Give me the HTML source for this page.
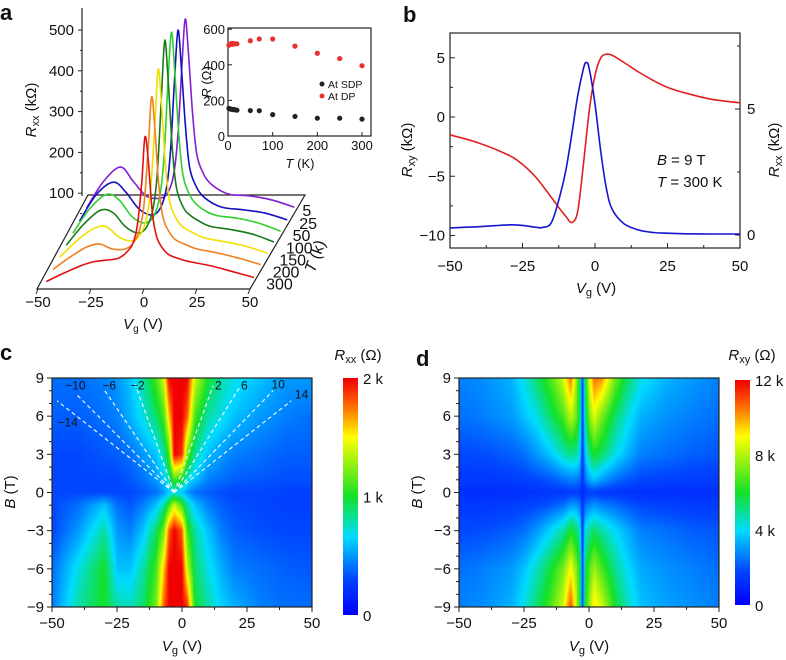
<!DOCTYPE html>
<html><head><meta charset="utf-8"><style>
html,body{margin:0;padding:0;background:#fff;}
#wrap{position:relative;width:786px;height:660px;overflow:hidden;font-family:"Liberation Sans",sans-serif;}
canvas{position:absolute;}
svg{position:absolute;left:0;top:0;}
text{font-family:"Liberation Sans",sans-serif;fill:#111;}
</style></head><body>
<div id="wrap">
<canvas id="hc" width="260" height="229" style="left:52px;top:378px"></canvas>
<canvas id="hd" width="260" height="229" style="left:459px;top:378px"></canvas>
<canvas id="cbc" width="15" height="237" style="left:343px;top:378px"></canvas>
<canvas id="cbd" width="15" height="225" style="left:735px;top:380px"></canvas>
<svg id="s" width="786" height="660" font-size="14"></svg>
</div>
<script>
// ---------- Panel a data ----------
const aVg=[-48,-40,-32,-26,-20,-14,-10,-7,-5,-3,-1.5,0,2,4,7,10,15,20,30,40,50];
const aTemps=["300","200","150","100","50","25","5"];
const aColors=["#e01010","#f08020","#f0e000","#1a7a1a","#30d030","#1010c0","#8020d0"];
const a300=[0,20,38,48,52,57,72,95,140,240,352,300,170,110,80,65,55,48,38,24,10];
const a200=[0,30,55,62,50,50,65,100,160,300,421,350,200,125,90,72,60,50,40,27,12];
const a150=[0,40,70,75,50,40,55,95,170,330,459,380,220,135,95,75,60,48,38,27,10];
const a100=[0,50,85,80,45,30,45,90,180,370,500,410,240,140,95,75,58,46,38,27,8];
const a50=[0,60,95,80,40,25,40,90,185,380,490,400,240,140,95,72,53,43,36,24,5];
const a25=[0,65,95,70,30,15,30,80,175,360,466,380,230,130,85,62,43,33,27,19,3];
const a5=[0,65,100,65,30,24,35,80,175,350,461,380,230,130,85,62,43,33,29,19,2];
const aDepth=[0.08,0.21,0.34,0.47,0.60,0.73,0.87];
const aYTicks=[100,200,300,400,500];
// inset
const insT=[2,5,8,10,12,15,20,50,70,100,150,200,250,300];
const insDP=[510,515,520,515,520,518,518,535,545,545,505,465,435,395];
const insSDP=[155,152,150,150,148,148,145,143,142,120,110,100,100,95];
// ---------- Panel b data ----------
const bVgXY=[-50,-40,-30,-25,-20,-15,-12,-10,-8,-6,-4,-2,0,2,4,6,10,15,20,25,30,40,50];
const bRxy=[-1.5,-2.2,-3.2,-4,-5.2,-6.8,-7.8,-8.4,-8.9,-8,-4,0.5,3.5,5,5.3,5.2,4.6,3.8,3.1,2.5,2.1,1.5,1.2];
const bVgXX=[-50,-40,-30,-25,-20,-18,-15,-12,-10,-8,-6,-4,-3,-2,0,2,4,6,10,15,20,25,30,40,50];
const bRxx=[0.28,0.33,0.4,0.38,0.3,0.3,0.5,1.6,2.6,4,5.5,6.6,6.85,6.6,5.2,3.3,1.8,1,0.45,0.2,0.1,0.07,0.05,0.04,0.04];
// ---------- heatmap data ----------
const hVg=[-50,-40,-30,-25,-20,-15,-10,-7,-5,-3,0,2,5,10,15,20,30,40,50];
const hB=[9,6,3,1,0,-1,-3,-6,-9];
const cVals=[
[0.2,0.2,0.22,0.25,0.3,0.4,0.55,0.7,1,1,1,1,0.7,0.5,0.4,0.35,0.3,0.25,0.25],
[0.18,0.18,0.2,0.22,0.28,0.35,0.45,0.55,0.8,1,1,0.9,0.55,0.4,0.35,0.3,0.25,0.22,0.2],
[0.15,0.15,0.17,0.18,0.2,0.25,0.3,0.4,0.55,1,0.95,0.6,0.4,0.3,0.25,0.22,0.2,0.18,0.18],
[0.15,0.15,0.15,0.15,0.17,0.2,0.25,0.3,0.4,0.55,0.5,0.35,0.3,0.22,0.2,0.18,0.17,0.16,0.16],
[0.15,0.15,0.15,0.15,0.15,0.17,0.2,0.25,0.3,0.35,0.3,0.25,0.2,0.18,0.16,0.15,0.15,0.14,0.14],
[0.15,0.2,0.3,0.2,0.17,0.22,0.3,0.4,0.55,0.7,0.55,0.4,0.3,0.22,0.18,0.16,0.15,0.14,0.14],
[0.15,0.25,0.4,0.25,0.22,0.3,0.45,0.6,0.9,1,0.9,0.55,0.4,0.3,0.22,0.18,0.16,0.15,0.15],
[0.2,0.35,0.5,0.3,0.3,0.4,0.55,0.8,1,1,1,0.7,0.45,0.35,0.28,0.22,0.2,0.18,0.17],
[0.22,0.4,0.5,0.4,0.38,0.45,0.6,0.9,1,1,1,0.95,0.5,0.4,0.32,0.28,0.22,0.2,0.2]];
const dVg=[-50,-40,-30,-25,-20,-15,-10,-7,-5,-3.5,-2.5,-1.5,0,2,5,10,15,20,30,40,50];
const dVals=[
[0.22,0.24,0.28,0.35,0.45,0.55,0.7,0.88,0.65,0.45,0.1,0.45,0.7,0.88,0.85,0.6,0.45,0.35,0.28,0.25,0.22],
[0.2,0.22,0.25,0.3,0.35,0.45,0.55,0.68,0.6,0.45,0.1,0.4,0.6,0.72,0.6,0.45,0.35,0.28,0.24,0.22,0.2],
[0.15,0.16,0.18,0.2,0.25,0.3,0.38,0.42,0.4,0.35,0.1,0.3,0.42,0.5,0.45,0.35,0.28,0.22,0.2,0.18,0.17],
[0.12,0.12,0.13,0.14,0.15,0.17,0.2,0.22,0.22,0.2,0.1,0.2,0.26,0.3,0.25,0.2,0.17,0.15,0.14,0.13,0.13],
[0.1,0.1,0.1,0.1,0.11,0.12,0.12,0.13,0.13,0.12,0.08,0.12,0.13,0.13,0.12,0.12,0.11,0.1,0.1,0.1,0.1],
[0.12,0.12,0.13,0.14,0.15,0.17,0.2,0.25,0.25,0.22,0.1,0.2,0.22,0.25,0.22,0.2,0.17,0.15,0.14,0.13,0.13],
[0.15,0.16,0.18,0.2,0.25,0.32,0.4,0.5,0.45,0.38,0.1,0.35,0.4,0.45,0.4,0.33,0.27,0.22,0.2,0.18,0.17],
[0.2,0.22,0.25,0.3,0.38,0.48,0.6,0.75,0.62,0.5,0.1,0.45,0.55,0.65,0.55,0.42,0.33,0.27,0.24,0.22,0.2],
[0.22,0.24,0.28,0.35,0.45,0.55,0.7,0.92,0.7,0.5,0.1,0.5,0.62,0.78,0.7,0.5,0.38,0.3,0.26,0.24,0.22]];
// dashed LL lines in c
const llNu=["-14","-10","-6","-2","2","6","10","14"];
const llEndVg=[-48,-41,-30,-18,12,22,35,42];
const llEndB=[7.2,7.8,8.1,8.5,8.4,8.2,8,7.2];
const llLabVg=[-44,-41,-28,-17,14,24,37,46];
const llLabB=[5.5,8.4,8.4,8.4,8.4,8.4,8.5,7.7];
const llOriginVg=-3, llOriginB=0;

const S=document.getElementById('s');
const NS='http://www.w3.org/2000/svg';
function mk(tag,at,parent){const e=document.createElementNS(NS,tag);for(const k in at)e.setAttribute(k,at[k]);(parent||S).appendChild(e);return e;}
function txt(x,y,s,anchor,extra){const e=mk('text',Object.assign({x:x,y:y,'text-anchor':anchor||'middle'},extra||{}));e.innerHTML=s;return e;}
function smooth(pts){let d='M'+pts[0][0].toFixed(1)+','+pts[0][1].toFixed(1);
 for(let i=0;i<pts.length-1;i++){const p0=pts[Math.max(0,i-1)],p1=pts[i],p2=pts[i+1],p3=pts[Math.min(pts.length-1,i+2)];
 const c1=[p1[0]+(p2[0]-p0[0])/6,p1[1]+(p2[1]-p0[1])/6],c2=[p2[0]-(p3[0]-p1[0])/6,p2[1]-(p3[1]-p1[1])/6];
 d+='C'+c1[0].toFixed(1)+','+c1[1].toFixed(1)+' '+c2[0].toFixed(1)+','+c2[1].toFixed(1)+' '+p2[0].toFixed(1)+','+p2[1].toFixed(1);}return d;}

// ---------- Panel a ----------
let e;
e=txt(0,20,'a','start',{'font-size':'22','font-weight':'bold'});
const aX=(vg,d)=>38+(vg+50)*2.12+d*51, aY=(r,d)=>289-d*93-r*0.41;
e=mk('polygon',{points:'37,289 250,289 305,195 88,195',fill:'none',stroke:'#222','stroke-width':1.2});

e=mk('line',{x1:82,y1:8,x2:82,y2:196,stroke:'#222','stroke-width':1.2});

aYTicks.forEach(v=>{const y=234-v*0.408;mk('line',{x1:78,y1:y,x2:82,y2:y,stroke:'#222'});mk('line',{x1:80,y1:y+20.4,x2:82,y2:y+20.4,stroke:'#222'});
 e=txt(74,y+5,v,'end',{'font-size':'15'});});
[-50,-25,0,25,50].forEach(v=>{const x=aX(v,0);mk('line',{x1:x,y1:289,x2:x-2,y2:294,stroke:'#222'});
 e=txt(x,307,v==0?'0':(v<0?'\u2212'+(-v):v),'middle',{'font-size':'15'});});
e=txt(143,329,'<tspan font-style="italic">V</tspan><tspan font-size="10" dy="3">g</tspan><tspan dy="-3"> (V)</tspan>','middle',{'font-size':'15'});

e=txt(0,0,'<tspan font-style="italic">R</tspan><tspan font-size="11" dy="3">xx</tspan><tspan dy="-3"> (k\u03A9)</tspan>','middle',{'font-size':'15',transform:'translate(36,110) rotate(-90)'});

const aSeries=[a300,a200,a150,a100,a50,a25,a5];
for(let i=aSeries.length-1;i>=0;i--){const d=aDepth[i];
 const pts=aVg.map((v,j)=>[aX(v,d),aY(aSeries[i][j],d)]);
 e=mk('path',{d:smooth(pts),fill:'none',stroke:aColors[i],'stroke-width':1.6});
 
 e=txt(aX(50,d)+8+(aTemps[i].length>1?4:0),aY(0,d)+8,aTemps[i],'start',{'font-size':'16',fill:aColors[i]==='#f0e000'?'#111':aColors[i]});
 }
e=txt(0,0,'<tspan font-style="italic">T</tspan> (k)','middle',{'font-size':'16',transform:'translate(320,258) rotate(-70)'});

// inset
const iX=t=>228+t/300*134, iY=r=>136-r*0.178;
e=mk('rect',{x:228,y:28,width:143,height:108,fill:'#fff',stroke:'#222','stroke-width':1.2});

[0,200,400,600].forEach(v=>{mk('line',{x1:228,y1:iY(v),x2:232,y2:iY(v),stroke:'#222'});e=txt(225,iY(v)+5,v,'end',{'font-size':'13'});});
[0,100,200,300].forEach(v=>{mk('line',{x1:iX(v),y1:136,x2:iX(v),y2:132,stroke:'#222'});e=txt(iX(v),150,v,'middle',{'font-size':'13'});});
e=txt(300,168,'<tspan font-style="italic">T</tspan> (K)','middle',{'font-size':'13'});
e=txt(0,0,'<tspan font-style="italic">R</tspan> (\u03A9)','middle',{'font-size':'13',transform:'translate(211,82) rotate(-90)'});
insT.forEach((t,i)=>{e=mk('circle',{cx:iX(t),cy:iY(insDP[i]),r:2.6,fill:'#e83030'});
 e=mk('circle',{cx:iX(t),cy:iY(insSDP[i]),r:2.6,fill:'#222'});});
mk('circle',{cx:322,cy:84,r:2.5,fill:'#222'});e=txt(328,88,'At SDP','start',{'font-size':'10.5'});
mk('circle',{cx:322,cy:96,r:2.5,fill:'#e83030'});e=txt(328,100,'At DP','start',{'font-size':'10.5'});

// ---------- Panel b ----------
e=txt(403,22,'b','start',{'font-size':'22','font-weight':'bold'});
const bX=v=>450+(v+50)*2.9, bYL=v=>117-v*11.85, bYR=v=>235-v*25.2;
e=mk('rect',{x:450,y:33,width:290,height:215,fill:'none',stroke:'#222','stroke-width':1.2});
[5,0,-5,-10].forEach(v=>{mk('line',{x1:450,y1:bYL(v),x2:455,y2:bYL(v),stroke:'#222'});mk('line',{x1:450,y1:bYL(v-2.5),x2:453,y2:bYL(v-2.5),stroke:'#222'});
 e=txt(445,bYL(v)+5,v<0?'\u2212'+(-v):v,'end',{'font-size':'15'});});
[0,5].forEach(v=>{mk('line',{x1:740,y1:bYR(v),x2:735,y2:bYR(v),stroke:'#222'});e=txt(747,bYR(v)+5,v,'start',{'font-size':'15'});});
[2.5,7.5].forEach(v=>mk('line',{x1:740,y1:bYR(v),x2:737,y2:bYR(v),stroke:'#222'}));
[-50,-25,0,25,50].forEach(v=>{mk('line',{x1:bX(v),y1:248,x2:bX(v),y2:243,stroke:'#222'});if(v<50)mk('line',{x1:bX(v+12.5),y1:248,x2:bX(v+12.5),y2:245,stroke:'#222'});
 e=txt(bX(v),271,v<0?'\u2212'+(-v):v,'middle',{'font-size':'15'});});
e=txt(596,293,'<tspan font-style="italic">V</tspan><tspan font-size="11" dy="3">g</tspan><tspan dy="-3"> (V)</tspan>','middle',{'font-size':'15'});
e=txt(0,0,'<tspan font-style="italic">R</tspan><tspan font-size="11" dy="3">xy</tspan><tspan dy="-3"> (k\u03A9)</tspan>','middle',{'font-size':'15',fill:'#e02020',transform:'translate(412,150) rotate(-90)'});
e=txt(0,0,'<tspan font-style="italic">R</tspan><tspan font-size="11" dy="3">xx</tspan><tspan dy="-3"> (k\u03A9)</tspan>','middle',{'font-size':'15',fill:'#2020d0',transform:'translate(779,150) rotate(-90)'});
e=mk('path',{d:smooth(bVgXY.map((v,i)=>[bX(v),bYL(bRxy[i])])),fill:'none',stroke:'#e02020','stroke-width':1.6});
e=mk('path',{d:smooth(bVgXX.map((v,i)=>[bX(v),bYR(bRxx[i])])),fill:'none',stroke:'#1515d0','stroke-width':1.6});
e=txt(657,165,'<tspan font-style="italic">B</tspan> = 9 T','start',{'font-size':'15'});
e=txt(657,187,'<tspan font-style="italic">T</tspan> = 300 K','start',{'font-size':'15'});

// ---------- colormap & heatmaps ----------
const cmS=[[0,0,0,255],[0.15,0,70,255],[0.33,0,220,255],[0.5,20,225,40],[0.75,255,255,0],[0.9,255,90,0],[1,240,0,0]];
function cmap(v){v=Math.max(0,Math.min(1,v));for(let i=0;i<cmS.length-1;i++){const a=cmS[i],b=cmS[i+1];if(v<=b[0]){const t=(v-a[0])/(b[0]-a[0]);return [a[1]+(b[1]-a[1])*t,a[2]+(b[2]-a[2])*t,a[3]+(b[3]-a[3])*t];}}return [240,0,0];}
function idx(arr,v,desc){for(let i=0;i<arr.length-1;i++){const a=arr[i],b=arr[i+1];if(desc?(v<=a&&v>=b):(v>=a&&v<=b))return [i,(v-a)/(b-a)];}return [arr.length-2,1];}
function heat(id,vg,vals){const c=document.getElementById(id),g=c.getContext('2d'),W=c.width,H=c.height,im=g.createImageData(W,H);
 for(let y=0;y<H;y++){const B=9-18*y/(H-1);const [bi,bt]=idx(hB,B,true);
  for(let x=0;x<W;x++){const V=-50+100*x/(W-1);const [vi,vt]=idx(vg,V,false);
   const v=(vals[bi][vi]*(1-vt)+vals[bi][vi+1]*vt)*(1-bt)+(vals[bi+1][vi]*(1-vt)+vals[bi+1][vi+1]*vt)*bt;
   const col=cmap(v),k=(y*W+x)*4;im.data[k]=col[0];im.data[k+1]=col[1];im.data[k+2]=col[2];im.data[k+3]=255;}}
 g.putImageData(im,0,0);}
heat('hc',hVg,cVals);heat('hd',dVg,dVals);
['cbc','cbd'].forEach(id=>{const c=document.getElementById(id),g=c.getContext('2d');for(let y=0;y<c.height;y++){const col=cmap(1-y/(c.height-1));g.fillStyle='rgb('+col.map(Math.round).join(',')+')';g.fillRect(0,y,c.width,1);}});

function heatAxes(x0,nm,title,cbx,cby,cbh,cbLabels,cbTitleX){
 const X=v=>x0+(v+50)*2.6, Y=b=>378+(9-b)*229/18;
 e=mk('rect',{x:x0,y:378,width:260,height:229,fill:'none',stroke:'#222','stroke-width':1.2});
 [9,6,3,0,-3,-6,-9].forEach(b=>{mk('line',{x1:x0-5,y1:Y(b),x2:x0,y2:Y(b),stroke:'#222'});if(b>-9){mk('line',{x1:x0-3,y1:Y(b-1),x2:x0,y2:Y(b-1),stroke:'#222'});mk('line',{x1:x0-3,y1:Y(b-2),x2:x0,y2:Y(b-2),stroke:'#222'});}
  e=txt(x0-8,Y(b)+5,b<0?'\u2212'+(-b):b,'end',{'font-size':'15'});});
 [-50,-25,0,25,50].forEach(v=>{mk('line',{x1:X(v),y1:607,x2:X(v),y2:612,stroke:'#222'});if(v<50)mk('line',{x1:X(v+12.5),y1:607,x2:X(v+12.5),y2:610,stroke:'#222'});
  e=txt(X(v),628,v<0?'\u2212'+(-v):v,'middle',{'font-size':'15'});});
 e=txt(x0+130,651,'<tspan font-style="italic">V</tspan><tspan font-size="11" dy="3">g</tspan><tspan dy="-3"> (V)</tspan>','middle',{'font-size':'15'});
 e=txt(0,0,'<tspan font-style="italic">B</tspan> (T)','middle',{'font-size':'15',transform:'translate('+(x0-37)+',492) rotate(-90)'});
 e=txt(cbTitleX,360,title,'middle',{'font-size':'15'});
 cbLabels.forEach((l,i)=>{const y=cby+cbh*i/(cbLabels.length-1);e=txt(cbx+20,y+6,l,'start',{'font-size':'15'});});
 return [X,Y];}
e=txt(0,360,'c','start',{'font-size':'22','font-weight':'bold'});
e=txt(416,366,'d','start',{'font-size':'22','font-weight':'bold'});
const [cX,cY]=heatAxes(52,'panel-c','<tspan font-style="italic">R</tspan><tspan font-size="11" dy="3">xx</tspan><tspan dy="-3"> (\u03A9)</tspan>',343,378,237,['2 k','1 k','0'],358);
heatAxes(459,'panel-d','<tspan font-style="italic">R</tspan><tspan font-size="11" dy="3">xy</tspan><tspan dy="-3"> (\u03A9)</tspan>',735,380,225,['12 k','8 k','4 k','0'],752);
llNu.forEach((n,i)=>{e=mk('line',{x1:cX(llOriginVg),y1:cY(llOriginB),x2:cX(llEndVg[i]),y2:cY(llEndB[i]),stroke:'#e8f4ff','stroke-width':1.2,'stroke-dasharray':'4,3'});
 
 e=txt(cX(llLabVg[i]),cY(llLabB[i])+4,n.replace('-','\u2212'),'middle',{'font-size':'12',fill:'#eef6ff'});});
</script>
</body></html>
